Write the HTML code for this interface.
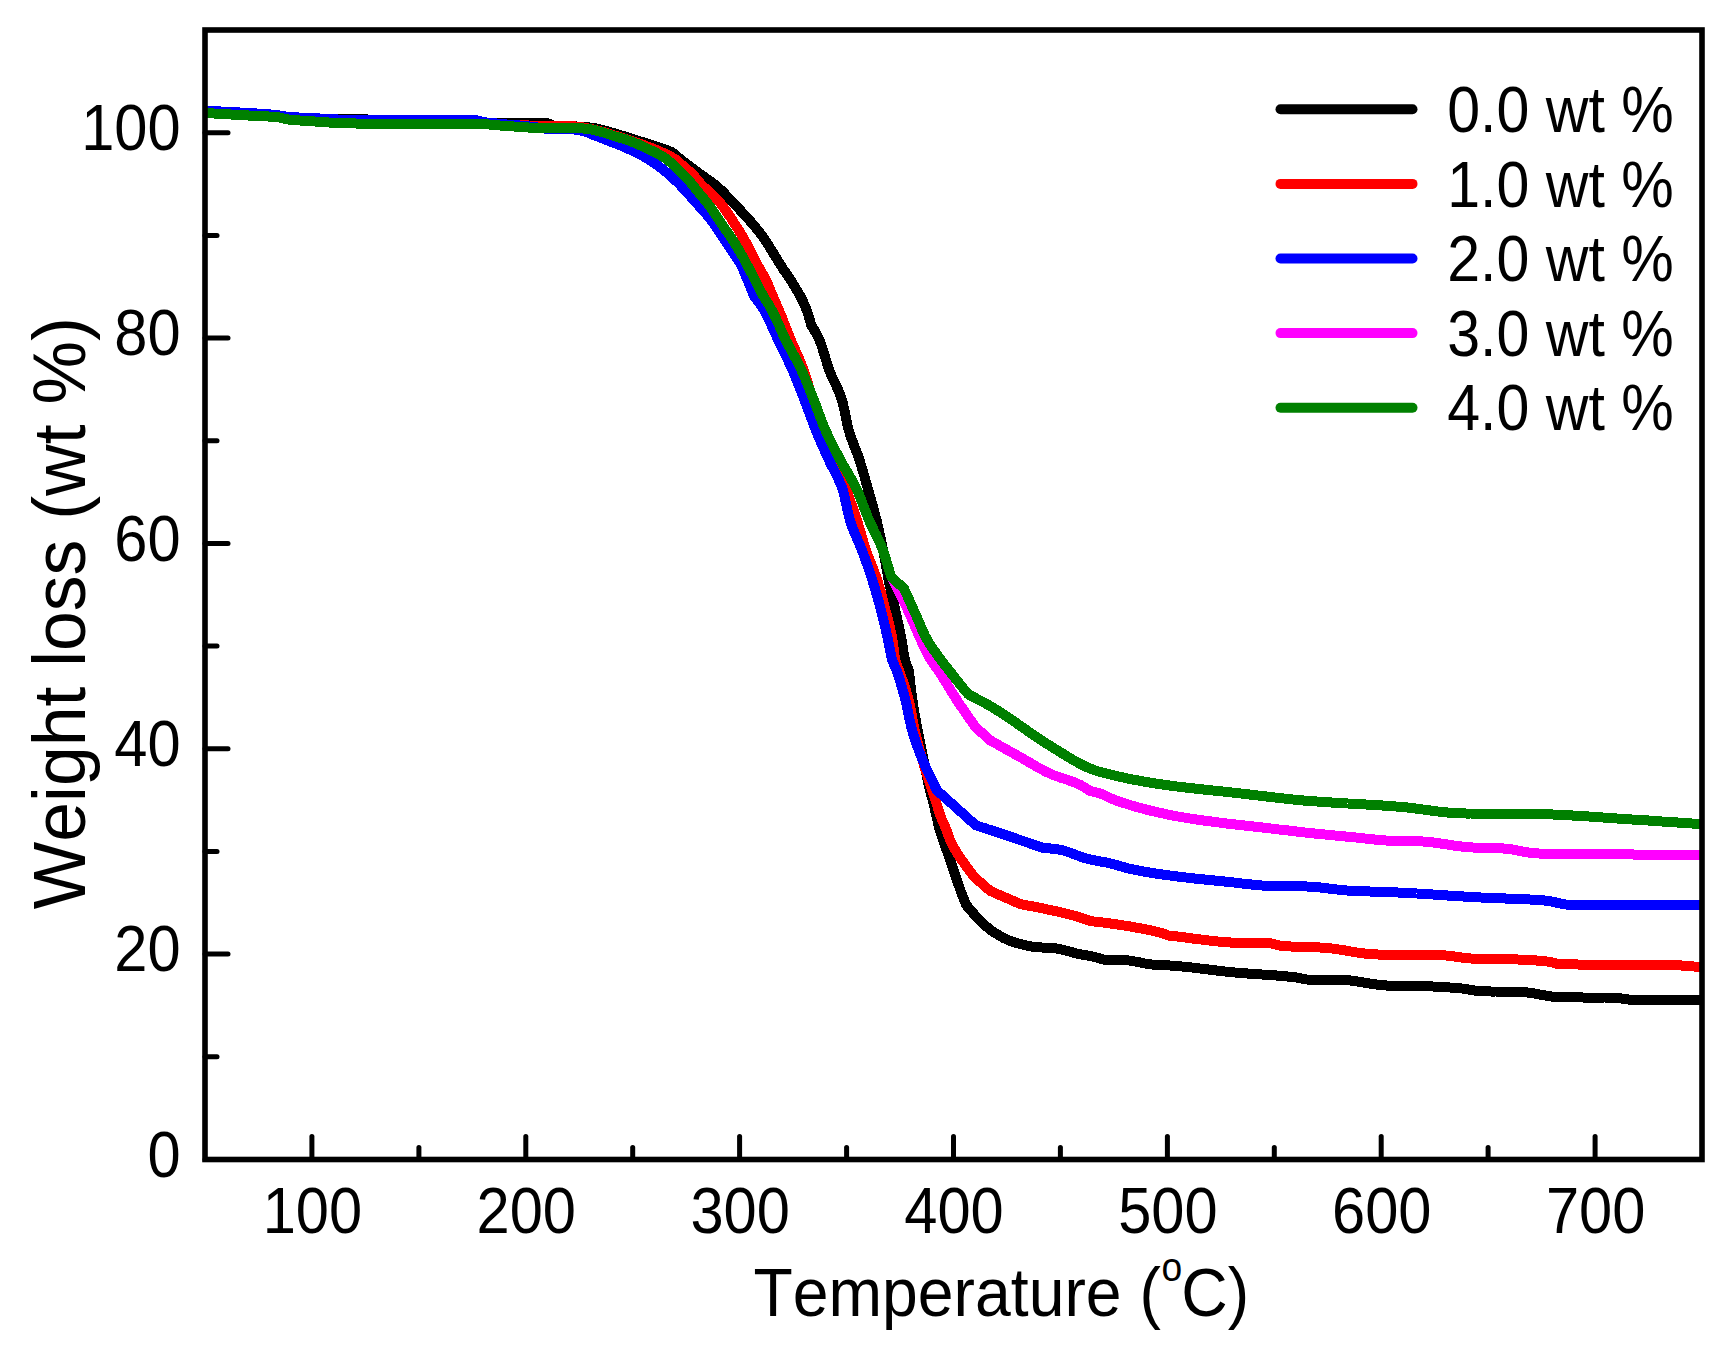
<!DOCTYPE html>
<html><head><meta charset="utf-8"><title>TGA weight loss</title>
<style>html,body{margin:0;padding:0;background:#fff}svg{display:block}text{font-family:"Liberation Sans",Arial,sans-serif;fill:#000;font-kerning:none}</style></head><body>
<svg width="1730" height="1354" viewBox="0 0 1730 1354">
<rect width="1730" height="1354" fill="#fff"/>
<defs><clipPath id="plot"><rect x="205.0" y="30.0" width="1497.0" height="1129.5"/></clipPath></defs>
<g clip-path="url(#plot)" fill="none" stroke-width="10" stroke-linejoin="round" stroke-linecap="butt" shape-rendering="crispEdges">
<polyline stroke="#000000" points="205.0,111.3 209.3,111.5 213.7,111.7 218.0,111.9 222.3,112.1 226.7,112.3 231.0,112.5 235.3,112.7 239.7,113.0 244.0,113.2 248.3,113.5 252.6,113.7 256.9,114.0 261.2,114.3 265.6,114.6 269.9,115.0 274.2,115.3 278.5,115.8 286.0,117.0 290.1,117.3 294.3,117.6 298.4,117.9 302.6,118.1 306.7,118.2 310.9,118.4 315.0,118.5 320.0,118.6 325.0,118.7 330.0,118.8 335.0,118.8 340.0,118.9 344.0,119.0 348.0,119.1 352.0,119.1 356.0,119.2 360.0,119.3 364.0,119.4 368.0,119.5 372.0,119.5 376.0,119.6 380.0,119.7 384.0,119.8 388.0,119.9 392.0,119.9 396.0,120.0 400.0,120.0 404.1,120.0 408.2,120.0 412.4,120.1 416.5,120.1 420.6,120.1 424.7,120.1 428.8,120.1 432.9,120.1 437.1,120.1 441.2,120.1 445.3,120.2 449.4,120.2 453.5,120.2 457.6,120.2 461.8,120.2 465.9,120.3 470.0,120.3 474.0,120.6 478.0,121.3 482.0,122.2 486.0,122.9 490.0,123.2 494.9,123.3 499.8,123.3 504.7,123.3 509.0,123.3 513.2,123.3 517.5,123.3 521.8,123.3 526.0,123.3 530.3,123.3 534.6,123.3 538.9,123.3 543.1,123.3 547.4,123.3 554.7,125.9 559.7,126.0 564.6,126.1 569.5,126.2 574.5,126.4 578.6,126.6 582.8,126.9 587.0,127.2 591.1,127.6 596.1,128.4 601.1,129.6 606.1,130.9 611.1,132.3 616.1,133.8 621.1,135.4 626.1,136.9 631.0,138.4 636.0,140.0 641.0,141.6 646.1,143.2 651.1,144.9 655.9,146.5 660.7,148.1 665.5,149.7 672.0,152.1 675.6,155.2 679.2,158.2 682.9,161.2 686.7,164.1 690.4,166.9 694.0,169.5 697.5,172.1 701.1,174.7 704.5,177.2 707.9,179.6 711.4,182.0 714.8,184.6 718.2,187.4 721.1,190.1 724.1,193.1 727.0,196.2 730.0,199.4 732.9,202.5 735.7,205.4 738.4,208.3 741.2,211.2 743.9,214.2 746.7,217.2 749.7,220.6 752.8,224.1 755.8,227.7 758.7,231.3 761.5,235.0 764.4,239.0 766.6,242.4 768.9,246.0 771.1,249.6 773.4,253.3 775.9,257.3 778.4,261.4 780.9,265.5 783.4,269.4 785.8,272.9 788.2,276.3 790.6,280.0 792.6,283.2 794.6,286.5 796.6,289.8 798.7,293.2 800.7,296.9 802.7,300.9 804.7,305.3 806.7,310.1 808.2,314.6 809.7,319.8 811.2,325.1 813.9,329.5 816.5,334.1 819.5,340.1 820.9,343.7 822.3,347.9 823.7,352.4 825.1,357.1 826.5,361.7 827.9,366.2 829.3,370.2 830.9,374.2 832.5,377.8 834.1,381.1 835.6,384.4 837.2,387.8 838.8,391.4 840.4,395.5 842.0,400.2 843.0,403.7 843.9,407.9 844.9,412.6 845.9,417.4 846.9,422.2 847.8,426.5 848.8,430.3 850.3,435.3 851.9,439.7 853.4,443.7 854.9,447.6 856.4,451.5 858.0,455.5 859.5,460.0 860.7,463.9 862.0,468.1 863.2,472.3 864.5,476.7 865.7,481.1 867.0,485.6 868.2,490.0 869.4,494.2 870.6,498.3 871.8,502.4 872.9,506.6 874.1,510.9 875.3,515.4 876.5,520.1 877.4,523.7 878.2,527.4 879.1,531.3 880.0,535.2 880.8,539.3 881.7,543.4 882.5,547.7 883.4,552.0 884.3,556.3 885.1,560.7 886.0,565.2 886.9,570.2 887.8,575.3 888.7,580.2 889.6,584.9 890.6,589.3 891.5,593.5 892.5,597.7 893.4,601.8 894.4,606.0 895.3,610.3 896.2,614.4 897.1,618.5 898.0,622.6 898.9,626.7 899.8,631.0 900.7,635.4 901.6,640.0 902.3,644.0 903.0,648.4 903.6,652.9 904.3,656.9 905.0,660.0 906.9,665.5 908.7,670.0 909.2,674.4 909.8,678.9 910.3,683.4 910.8,687.9 911.3,692.2 911.9,696.3 912.4,700.1 913.2,705.0 913.9,709.6 914.7,714.0 915.4,718.2 916.2,722.2 916.9,726.2 917.7,730.2 918.6,734.7 919.4,739.1 920.3,743.4 921.1,747.6 922.0,751.8 922.8,756.0 923.7,760.2 924.6,764.6 925.5,769.2 926.4,773.7 927.2,778.1 928.1,782.5 929.0,786.5 929.9,790.3 931.2,795.2 932.6,800.0 933.6,803.8 934.5,807.9 935.5,812.1 936.4,816.2 937.4,820.3 938.6,825.3 939.8,830.0 941.3,835.0 942.8,839.5 944.3,843.7 945.8,847.8 947.3,851.8 948.8,855.9 950.3,860.1 951.7,864.4 953.2,868.8 954.6,873.2 956.1,877.6 957.5,881.9 959.0,886.1 960.4,890.2 962.3,895.2 964.2,900.0 966.1,904.8 969.1,908.4 972.1,911.9 975.1,915.3 978.5,918.9 981.8,922.4 985.2,925.5 989.5,929.1 993.9,932.2 998.2,934.9 1002.4,937.4 1006.7,939.5 1012.0,941.5 1017.2,943.1 1021.7,944.3 1026.2,945.4 1030.8,946.4 1035.3,947.0 1040.2,947.4 1045.0,947.7 1049.9,947.9 1054.8,948.3 1059.0,948.9 1063.3,949.9 1067.5,951.0 1071.8,952.2 1076.0,953.3 1080.3,954.3 1085.2,955.1 1090.0,956.0 1094.1,956.9 1098.2,958.0 1102.4,959.2 1106.5,960.3 1110.7,960.2 1114.8,960.2 1118.9,960.1 1123.1,960.1 1127.2,960.3 1131.4,960.8 1135.5,961.6 1139.6,962.4 1143.7,963.3 1147.9,964.0 1152.0,964.5 1156.1,964.8 1160.3,965.0 1164.4,965.2 1168.6,965.4 1172.7,965.7 1176.8,966.0 1181.0,966.4 1185.1,966.8 1189.3,967.2 1193.4,967.7 1197.5,968.2 1201.7,968.7 1205.8,969.2 1210.0,969.7 1214.1,970.2 1218.2,970.7 1222.4,971.2 1226.5,971.7 1230.7,972.1 1234.8,972.5 1238.9,972.9 1243.1,973.2 1247.2,973.5 1251.4,973.8 1255.5,974.1 1259.6,974.4 1263.8,974.6 1267.9,974.9 1272.1,975.2 1276.2,975.5 1280.3,975.8 1284.5,976.2 1288.6,976.6 1292.8,977.0 1296.9,977.5 1301.0,978.3 1305.2,979.3 1309.3,979.8 1313.4,979.8 1317.6,979.9 1321.7,979.9 1325.8,979.9 1330.0,979.9 1334.1,979.9 1338.3,980.0 1342.4,980.0 1346.5,980.2 1350.7,980.5 1354.8,981.0 1358.9,981.7 1363.1,982.4 1367.2,983.1 1371.3,983.8 1375.4,984.4 1379.6,984.9 1383.7,985.3 1387.8,985.6 1391.8,985.8 1395.9,986.0 1400.0,986.1 1404.1,986.1 1408.3,986.2 1412.4,986.2 1416.5,986.2 1420.7,986.3 1424.8,986.3 1429.0,986.4 1433.1,986.5 1437.2,986.7 1441.4,986.9 1445.5,987.2 1449.7,987.5 1453.8,987.8 1458.0,988.1 1462.1,988.5 1466.2,989.2 1470.3,989.8 1474.5,990.5 1478.6,991.0 1482.7,991.3 1486.8,991.4 1491.0,991.5 1495.1,991.5 1499.3,991.6 1503.4,991.6 1507.6,991.7 1511.7,991.7 1515.9,991.8 1520.0,991.9 1524.1,992.1 1528.3,992.6 1532.4,993.2 1536.6,993.9 1540.7,994.7 1544.8,995.4 1549.0,996.1 1553.1,996.7 1557.3,997.1 1561.4,997.3 1565.7,997.4 1570.0,997.4 1574.3,997.4 1578.6,997.4 1582.9,997.5 1587.2,997.5 1591.4,997.5 1595.7,997.5 1600.0,997.5 1604.3,997.5 1608.6,997.6 1612.9,997.6 1617.2,997.7 1621.3,998.4 1625.5,999.3 1630.0,999.6 1634.6,999.9 1639.1,1000.0 1643.7,1000.2 1648.2,1000.2 1652.3,1000.2 1656.5,1000.2 1660.6,1000.2 1664.8,1000.2 1668.9,1000.2 1673.0,1000.2 1677.2,1000.2 1681.3,1000.2 1685.4,1000.2 1689.6,1000.2 1693.7,1000.2 1697.9,1000.2 1702.0,1000.2"/>
<polyline stroke="#ff0000" points="205.0,111.5 209.3,111.7 213.7,111.9 218.0,112.1 222.3,112.3 226.7,112.5 231.0,112.7 235.3,112.9 239.7,113.2 244.0,113.4 248.3,113.7 252.6,113.9 256.9,114.2 261.2,114.5 265.6,114.8 269.9,115.2 274.2,115.5 278.5,116.0 286.0,117.2 290.1,117.6 294.3,117.9 298.4,118.1 302.6,118.3 306.7,118.5 310.9,118.7 315.0,118.9 319.2,119.1 323.3,119.3 327.5,119.5 331.7,119.6 335.8,119.8 340.0,120.0 344.0,120.2 348.0,120.4 352.0,120.5 356.0,120.6 360.0,120.6 364.0,120.7 368.0,120.7 372.0,120.8 376.0,120.8 380.0,120.9 384.0,120.9 388.0,120.9 392.0,120.9 396.0,121.0 400.0,121.0 404.1,121.0 408.2,121.0 412.4,121.1 416.5,121.1 420.6,121.1 424.7,121.1 428.8,121.1 432.9,121.1 437.1,121.1 441.2,121.1 445.3,121.1 449.4,121.2 453.5,121.2 457.6,121.2 461.8,121.2 465.9,121.3 470.0,121.3 474.0,121.5 478.0,122.0 482.0,122.6 486.0,123.3 490.0,123.7 495.0,124.1 500.0,124.4 505.0,124.6 510.0,124.8 515.0,124.9 520.0,125.1 524.2,125.3 528.4,125.5 532.6,125.7 536.8,125.9 541.0,126.1 545.2,126.3 549.4,126.4 553.6,126.4 557.8,126.4 562.0,126.4 566.1,126.4 570.3,126.4 574.5,126.4 578.6,126.7 582.8,127.4 586.8,128.1 590.7,128.9 594.6,129.7 598.6,130.7 603.6,132.1 608.6,133.6 613.6,135.2 618.6,136.7 623.5,138.2 628.5,139.8 633.4,141.5 638.4,143.2 643.3,145.0 647.0,146.4 650.8,147.8 654.5,149.3 658.3,150.8 662.2,152.4 666.0,154.0 669.9,155.9 676.3,160.0 679.7,162.9 683.1,166.0 687.5,169.7 691.8,173.6 694.9,176.9 697.9,180.6 701.0,184.1 704.0,187.1 706.9,189.8 709.9,192.5 712.9,195.2 715.8,198.1 718.8,201.3 721.2,204.3 723.7,207.5 726.1,210.9 728.5,214.5 731.0,218.2 733.4,221.9 735.5,225.1 737.6,228.4 739.7,231.8 741.8,235.3 743.9,238.8 746.0,242.5 748.0,246.2 750.0,250.0 752.0,254.0 754.0,258.0 756.0,261.9 758.0,265.7 760.0,269.3 762.0,272.7 764.0,276.2 766.0,280.0 767.6,283.6 769.2,287.5 770.9,291.5 772.5,295.4 774.1,299.1 775.7,302.7 777.3,306.4 778.9,310.1 780.4,313.7 781.9,317.4 783.4,321.2 784.9,325.0 786.4,328.9 787.9,332.7 789.4,336.4 790.9,340.1 792.5,343.9 794.1,347.5 795.7,351.1 797.3,354.6 798.9,358.3 800.5,362.0 802.1,366.0 803.7,370.2 805.0,374.1 806.4,378.3 807.7,382.7 809.0,387.2 810.3,391.7 811.7,396.1 813.0,400.2 814.4,404.2 815.8,408.1 817.1,411.9 818.5,415.7 819.9,419.4 821.2,423.0 822.6,426.7 824.0,430.3 825.5,434.1 826.9,437.9 828.4,441.6 829.9,445.3 831.3,449.0 832.8,452.7 834.2,456.4 835.7,460.3 837.2,464.4 838.8,468.6 840.3,472.8 841.8,477.1 843.3,481.4 844.9,485.7 846.4,490.0 847.9,494.2 849.4,498.4 850.9,502.6 852.4,506.8 853.9,511.2 855.4,515.6 856.9,520.1 858.2,524.2 859.5,528.6 860.8,533.0 862.1,537.5 863.4,541.9 864.7,546.2 866.0,550.2 867.4,554.2 868.8,557.9 870.2,561.5 871.6,565.0 873.0,568.5 874.4,572.2 875.8,576.0 877.2,580.2 878.4,584.0 879.6,588.0 880.8,592.2 881.9,596.6 883.1,601.1 884.3,605.7 885.5,610.3 886.5,614.1 887.5,617.9 888.5,621.8 889.5,625.8 890.5,630.1 891.5,634.8 892.5,640.0 893.1,643.7 893.6,648.2 894.2,652.8 894.7,657.0 895.3,660.0 897.1,665.5 898.9,670.0 900.3,674.0 901.7,677.9 903.1,681.8 904.5,685.9 905.9,690.2 907.3,694.9 908.7,700.1 909.6,703.8 910.4,707.9 911.3,712.4 912.1,717.1 913.0,721.8 913.8,726.2 914.7,730.2 915.9,735.1 917.0,739.8 918.2,744.4 919.3,748.7 920.5,752.9 921.6,757.0 922.9,761.3 924.1,765.5 925.4,769.5 926.6,773.5 927.9,777.4 929.1,781.2 930.4,785.0 931.6,788.7 932.9,792.4 934.1,796.2 935.4,800.0 936.8,804.2 938.1,808.5 939.5,812.7 940.8,816.7 942.2,820.3 944.4,825.1 946.6,830.0 948.3,835.1 950.0,840.0 952.4,845.0 954.8,849.2 957.1,853.0 959.5,856.6 961.9,860.1 964.3,863.6 966.7,866.9 969.1,870.2 971.5,873.4 973.9,876.6 990.2,890.9 1020.2,904.0 1024.5,904.8 1028.8,905.7 1033.1,906.5 1037.4,907.3 1041.7,908.2 1046.0,909.1 1050.3,910.0 1054.6,911.0 1058.9,911.9 1063.2,912.9 1067.4,914.0 1071.7,915.1 1076.0,916.2 1080.3,917.5 1085.2,919.2 1090.0,921.0 1094.1,921.5 1098.2,922.0 1102.2,922.4 1106.3,922.9 1110.4,923.5 1114.5,924.1 1118.7,924.7 1122.8,925.3 1126.9,926.0 1131.1,926.6 1135.2,927.4 1139.3,928.1 1143.5,928.9 1147.6,929.7 1151.7,930.6 1155.9,931.6 1160.0,932.6 1164.3,934.0 1168.6,935.5 1172.6,935.9 1176.6,936.4 1180.7,936.9 1184.7,937.4 1188.7,937.9 1192.7,938.5 1196.8,939.0 1200.8,939.5 1204.8,940.0 1208.8,940.5 1212.8,941.0 1216.9,941.4 1220.9,941.8 1224.9,942.1 1228.9,942.4 1233.0,942.7 1237.0,942.8 1241.0,942.9 1245.1,942.9 1249.3,943.0 1253.4,943.0 1257.6,943.0 1261.7,943.1 1265.9,943.1 1270.0,943.1 1274.1,944.2 1278.3,945.3 1282.4,946.0 1286.5,946.3 1290.7,946.5 1294.8,946.7 1299.0,946.8 1303.1,946.9 1307.2,947.1 1311.4,947.2 1315.5,947.3 1319.7,947.5 1323.8,947.7 1327.9,948.0 1332.1,948.5 1336.2,949.1 1340.3,949.7 1344.5,950.4 1348.6,951.1 1352.7,951.8 1356.9,952.5 1361.0,953.1 1365.1,953.6 1369.3,954.0 1373.4,954.3 1377.8,954.5 1382.3,954.7 1386.7,954.8 1391.1,954.9 1395.6,955.0 1400.0,955.1 1404.1,955.1 1408.3,955.2 1412.4,955.2 1416.6,955.2 1420.7,955.2 1424.8,955.2 1429.0,955.2 1433.1,955.2 1437.3,955.3 1441.4,955.3 1445.8,955.5 1450.3,955.9 1454.7,956.5 1459.1,957.2 1463.5,957.8 1468.0,958.3 1472.4,958.6 1476.8,958.7 1481.2,958.8 1485.6,958.9 1490.0,958.9 1494.4,959.0 1498.8,959.0 1503.2,959.1 1507.6,959.2 1511.7,959.3 1515.9,959.4 1520.0,959.6 1524.2,959.8 1528.3,960.0 1532.4,960.2 1536.6,960.5 1540.7,960.9 1544.9,961.3 1549.0,961.7 1553.1,962.6 1557.2,963.8 1561.3,963.9 1565.5,964.1 1569.6,964.3 1573.7,964.4 1577.9,964.5 1582.0,964.6 1586.1,964.6 1590.3,964.7 1594.4,964.7 1598.6,964.7 1602.7,964.7 1606.9,964.7 1611.0,964.8 1615.1,964.8 1619.3,964.8 1623.4,964.8 1627.6,964.8 1631.7,964.8 1635.9,964.8 1640.0,964.8 1644.1,964.8 1648.3,964.9 1652.4,964.9 1656.6,964.9 1660.7,964.9 1664.9,965.0 1669.0,965.0 1673.1,965.1 1677.2,965.3 1681.4,965.5 1685.5,965.8 1689.6,966.2 1693.8,966.5 1697.9,966.8 1702.0,967.1"/>
<polyline stroke="#0000ff" points="205.0,110.8 209.3,111.0 213.7,111.2 218.0,111.4 222.3,111.6 226.7,111.8 231.0,112.0 235.3,112.2 239.7,112.5 244.0,112.7 248.3,113.0 252.6,113.2 256.9,113.5 261.2,113.8 265.6,114.1 269.9,114.4 274.2,114.8 278.5,115.3 286.0,116.6 290.1,117.0 294.3,117.3 298.4,117.5 302.6,117.7 306.7,117.9 310.9,118.1 315.0,118.3 319.6,118.5 324.1,118.8 328.7,119.0 333.3,119.3 337.8,119.5 342.4,119.6 346.8,119.7 351.2,119.8 355.6,119.9 360.0,119.9 364.0,119.9 368.0,119.9 372.0,119.9 376.0,119.9 380.0,119.9 384.0,119.9 388.0,119.9 392.0,119.9 396.0,119.9 400.0,119.9 404.0,119.9 408.0,119.9 412.0,119.9 416.0,119.9 420.0,119.9 424.0,119.9 428.0,119.9 432.0,119.9 436.0,119.9 440.0,119.9 444.1,119.9 448.1,119.9 452.2,119.9 456.2,119.9 460.3,119.9 464.4,119.9 468.4,119.9 472.5,119.9 477.0,120.4 481.5,121.6 486.0,122.5 491.2,123.1 496.4,123.5 501.6,124.0 505.8,124.4 509.9,124.7 514.1,125.1 518.2,125.4 522.4,125.8 526.9,126.2 531.5,126.7 536.0,127.2 540.7,127.9 545.3,128.6 550.0,129.0 554.1,129.1 558.2,129.2 562.2,129.2 566.3,129.3 570.4,129.4 574.5,129.5 578.6,130.0 582.8,131.0 586.7,132.2 590.5,133.7 594.4,135.3 598.1,136.7 601.9,138.2 605.6,139.6 609.4,141.1 613.2,142.6 617.0,144.1 620.8,145.6 624.6,147.2 628.4,148.9 632.2,150.6 636.1,152.4 639.9,154.3 643.9,156.5 647.8,158.9 651.8,161.5 655.7,164.2 659.5,166.9 663.3,169.8 667.1,172.9 671.0,176.3 675.0,180.0 678.8,183.6 682.5,187.5 685.5,190.8 688.5,194.1 691.5,197.6 694.5,201.0 697.3,204.1 700.1,207.2 702.9,210.2 705.6,213.3 708.4,216.6 711.2,220.1 714.0,223.9 716.8,228.0 719.6,232.3 722.4,236.5 724.8,240.1 727.2,243.8 729.7,247.5 732.1,251.2 734.4,254.6 736.7,257.8 738.9,261.3 741.2,265.3 743.3,269.7 745.4,274.8 747.5,280.0 749.0,283.8 750.6,287.6 752.2,291.5 753.7,295.4 756.3,299.0 758.9,302.4 761.4,306.1 764.0,310.1 765.8,313.3 767.6,316.8 769.4,320.5 771.1,324.3 772.9,328.3 774.7,332.3 776.5,336.3 778.3,340.1 780.1,343.8 781.9,347.5 783.7,351.1 785.5,354.8 787.2,358.5 789.0,362.3 790.8,366.2 792.6,370.2 794.1,373.7 795.6,377.3 797.1,381.0 798.6,384.8 800.1,388.6 801.6,392.4 803.1,396.3 804.6,400.2 806.0,403.9 807.4,407.7 808.8,411.5 810.2,415.4 811.7,419.3 813.1,423.0 814.5,426.7 815.9,430.3 817.5,434.3 819.2,438.2 820.8,442.0 822.5,445.7 824.1,449.4 825.7,453.0 827.4,456.7 829.0,460.3 830.7,463.9 832.5,467.3 834.2,470.6 835.9,473.9 837.6,477.3 839.3,481.1 841.1,485.2 842.8,490.0 843.8,493.5 844.8,497.7 845.8,502.4 846.9,507.3 847.9,512.0 848.9,516.4 849.9,520.1 851.4,524.7 852.9,528.7 854.4,532.5 855.9,536.0 857.4,539.4 858.9,542.8 860.4,546.4 861.9,550.2 863.4,554.2 864.9,558.3 866.4,562.5 867.9,566.7 869.4,571.1 870.9,575.6 872.4,580.2 873.6,584.1 874.9,588.2 876.1,592.4 877.3,596.7 878.5,601.1 879.8,605.6 881.0,610.3 882.0,614.2 883.0,618.2 884.0,622.4 885.0,626.6 886.0,631.0 887.0,635.4 888.0,640.0 888.8,643.8 889.6,647.8 890.4,651.9 891.2,656.0 892.0,660.0 894.2,664.8 896.4,670.0 897.7,673.6 899.0,677.4 900.3,681.5 901.5,685.9 902.8,690.5 904.1,695.2 905.4,700.1 906.4,704.1 907.3,708.5 908.3,713.1 909.2,717.8 910.2,722.3 911.1,726.5 912.1,730.2 913.6,735.3 915.1,740.1 916.6,744.5 918.2,748.7 919.7,752.7 921.2,756.5 922.7,760.2 924.5,764.4 926.2,768.4 928.0,772.2 929.8,775.8 931.6,779.4 933.4,783.0 935.1,786.6 936.9,790.3 975.8,825.3 980.0,826.7 984.2,828.0 988.4,829.4 992.6,830.8 996.8,832.1 1001.0,833.5 1005.2,834.9 1009.4,836.3 1013.6,837.7 1017.7,839.2 1021.9,840.6 1026.1,842.0 1030.3,843.5 1034.4,844.9 1038.6,846.4 1042.8,847.8 1047.8,848.3 1052.8,848.7 1057.8,849.3 1062.1,850.2 1066.4,851.4 1070.7,852.9 1075.0,854.6 1079.3,856.2 1083.6,857.7 1087.9,858.9 1092.4,859.9 1096.9,860.8 1101.4,861.6 1105.9,862.4 1110.4,863.4 1114.6,864.5 1118.8,865.7 1123.0,866.9 1127.2,868.1 1131.4,869.1 1135.5,869.9 1139.7,870.7 1143.8,871.5 1147.9,872.2 1152.1,872.9 1156.2,873.6 1160.3,874.2 1164.4,874.8 1168.6,875.3 1172.7,875.9 1176.7,876.4 1180.7,876.9 1184.7,877.4 1188.6,877.8 1192.6,878.3 1196.6,878.7 1200.6,879.1 1204.6,879.5 1208.6,879.9 1212.5,880.3 1216.5,880.7 1220.5,881.1 1224.5,881.5 1228.8,882.0 1233.1,882.4 1237.5,883.0 1241.8,883.5 1246.1,884.0 1250.4,884.4 1254.7,884.9 1259.0,885.3 1263.4,885.6 1267.7,885.8 1272.0,886.0 1276.4,886.1 1280.8,886.2 1285.2,886.2 1289.6,886.2 1294.0,886.3 1298.4,886.3 1302.8,886.4 1307.2,886.5 1311.3,886.7 1315.5,887.0 1319.6,887.4 1323.8,887.9 1327.9,888.4 1332.0,888.9 1336.2,889.4 1340.3,889.9 1344.5,890.3 1348.6,890.6 1352.9,890.8 1357.2,891.0 1361.4,891.2 1365.7,891.4 1370.0,891.5 1374.3,891.7 1378.6,891.8 1382.9,891.9 1387.2,892.1 1391.4,892.2 1395.7,892.4 1400.0,892.6 1404.1,892.8 1408.3,893.0 1412.4,893.2 1416.5,893.5 1420.7,893.7 1424.8,894.0 1429.0,894.3 1433.1,894.5 1437.2,894.8 1441.4,895.1 1445.5,895.4 1449.6,895.6 1453.8,895.9 1457.9,896.2 1462.1,896.4 1466.2,896.7 1470.3,896.9 1474.5,897.2 1478.6,897.4 1482.7,897.6 1486.9,897.8 1491.0,898.0 1495.1,898.1 1499.3,898.3 1503.4,898.4 1507.6,898.6 1511.7,898.7 1515.8,898.9 1520.0,899.1 1524.1,899.2 1528.2,899.4 1532.4,899.7 1536.5,899.9 1540.7,900.2 1544.8,900.5 1549.3,901.1 1553.8,902.0 1558.2,903.0 1562.7,904.0 1567.2,904.7 1571.7,905.0 1575.8,905.0 1579.8,905.0 1583.9,905.0 1588.0,905.0 1592.1,905.0 1596.1,905.0 1600.2,905.0 1604.3,905.0 1608.3,905.0 1612.4,905.0 1616.5,905.0 1620.6,905.0 1624.6,904.9 1628.7,904.9 1632.8,904.9 1636.8,904.9 1640.9,904.9 1645.0,904.9 1649.1,904.9 1653.1,904.9 1657.2,904.9 1661.3,904.9 1665.4,904.9 1669.4,904.9 1673.5,904.9 1677.6,904.8 1681.6,904.8 1685.7,904.8 1689.8,904.8 1693.9,904.8 1697.9,904.8 1702.0,904.8"/>
<polyline stroke="#ff00ff" points="205.0,113.0 209.3,113.3 213.7,113.5 218.0,113.8 222.3,114.0 226.7,114.3 231.0,114.5 235.3,114.8 239.7,115.0 244.0,115.3 248.3,115.5 252.6,115.7 256.9,115.9 261.2,116.1 265.6,116.3 269.9,116.6 274.2,116.9 278.5,117.3 286.0,119.2 290.1,119.7 294.3,120.1 298.4,120.4 302.6,120.7 306.7,121.0 310.9,121.2 315.0,121.5 319.6,121.8 324.1,122.2 328.7,122.5 333.3,122.8 337.8,123.0 342.4,123.2 346.8,123.3 351.2,123.4 355.6,123.5 360.0,123.5 364.0,123.5 368.0,123.5 372.0,123.5 376.0,123.5 380.0,123.5 384.0,123.5 388.0,123.5 392.0,123.5 396.0,123.5 400.0,123.5 404.0,123.5 408.0,123.5 412.0,123.5 416.0,123.5 420.0,123.5 424.0,123.5 428.0,123.5 432.0,123.5 436.0,123.5 440.0,123.5 444.1,123.5 448.1,123.5 452.2,123.5 456.2,123.5 460.3,123.5 464.4,123.5 468.4,123.5 472.5,123.5 476.7,123.6 480.8,123.8 485.0,124.1 489.1,124.5 493.3,124.9 497.4,125.3 501.6,125.6 506.1,125.9 510.5,126.2 515.0,126.6 519.4,126.9 523.9,127.2 528.3,127.5 532.8,127.7 537.3,127.9 541.9,128.1 546.4,128.2 550.4,128.2 554.4,128.2 558.4,128.2 562.5,128.2 566.5,128.2 570.5,128.2 574.5,128.2 579.8,128.3 585.0,128.6 590.0,129.2 595.1,130.3 600.1,131.6 605.1,133.0 610.1,134.7 615.1,136.3 620.1,137.8 625.1,139.3 630.1,141.0 633.9,142.5 637.6,144.1 641.4,145.8 645.1,147.6 648.9,149.4 652.7,151.1 656.4,153.0 660.2,155.1 664.0,157.4 667.7,160.0 671.5,163.2 675.2,166.7 679.0,170.4 682.7,174.2 686.5,178.0 690.2,182.1 694.1,187.0 697.1,190.7 700.1,194.3 703.1,197.9 706.1,201.6 709.1,205.5 711.6,209.0 714.1,212.7 716.6,216.5 719.1,220.3 721.6,224.0 724.1,227.7 726.7,231.3 729.2,234.9 731.8,238.6 734.3,242.5 736.4,246.0 738.6,249.6 740.7,253.3 742.9,257.1 745.0,261.0 747.5,265.6 749.9,270.3 752.4,275.0 754.5,279.1 756.6,283.3 758.8,287.4 760.9,291.5 763.0,295.4 765.2,299.1 767.4,302.7 769.6,306.2 771.8,310.1 773.5,313.5 775.3,317.1 777.0,320.9 778.8,324.8 780.5,328.8 782.2,332.7 784.0,336.5 785.7,340.1 787.7,344.0 789.7,347.7 791.6,351.3 793.6,354.9 795.6,358.5 797.5,362.2 799.5,366.1 801.5,370.2 803.0,373.6 804.6,377.2 806.1,380.9 807.7,384.6 809.2,388.5 810.8,392.4 812.4,396.3 813.9,400.2 815.4,403.9 816.8,407.8 818.2,411.7 819.7,415.6 821.1,419.5 822.6,423.3 824.0,426.9 825.5,430.3 827.4,434.5 829.2,438.4 831.1,442.3 833.0,446.0 834.9,449.6 836.8,453.2 838.6,456.8 840.5,460.3 842.6,464.1 844.6,467.7 846.7,471.2 848.8,474.7 850.8,478.2 852.9,481.9 854.9,485.8 857.0,490.0 858.5,493.3 860.0,497.0 861.5,500.8 863.0,504.7 864.5,508.7 866.0,512.7 867.5,516.5 869.0,520.1 870.7,524.0 872.5,527.6 874.2,531.1 876.0,534.6 877.7,538.1 879.4,541.9 881.2,545.8 882.9,550.2 884.2,553.9 885.5,558.0 886.8,562.4 888.2,566.9 889.5,571.3 890.8,575.7 892.3,578.0 895.4,585.0 898.0,590.2 900.5,595.3 902.4,599.0 904.2,602.7 906.1,606.4 908.0,610.3 909.6,613.9 911.2,617.6 912.9,621.4 914.5,625.3 916.1,629.2 917.8,633.0 919.4,636.7 921.0,640.3 923.0,644.5 925.0,648.7 926.9,652.8 928.9,656.6 930.9,660.0 933.3,663.5 935.6,666.7 938.0,670.0 940.4,673.6 942.7,677.3 945.1,681.1 947.5,685.0 949.8,688.8 952.2,692.7 954.5,696.4 956.9,700.1 959.2,703.6 961.5,707.0 963.8,710.3 966.1,713.6 968.4,717.0 970.7,720.3 973.0,723.6 975.3,726.9 990.3,740.4 994.0,742.5 997.8,744.6 1001.5,746.7 1005.3,748.8 1009.0,750.9 1012.8,753.0 1016.5,755.1 1020.3,757.2 1024.1,759.3 1027.8,761.5 1031.6,763.7 1035.3,765.9 1039.1,768.1 1042.9,770.1 1046.6,772.0 1050.4,773.8 1054.2,775.4 1057.9,776.7 1061.7,778.0 1065.5,779.2 1069.2,780.5 1073.0,781.8 1076.7,783.3 1080.5,785.0 1085.2,787.8 1090.0,790.9 1095.0,792.1 1100.0,793.5 1103.7,794.9 1107.4,796.7 1111.1,798.5 1114.8,800.0 1118.9,801.4 1123.1,802.8 1127.2,804.1 1131.3,805.4 1135.5,806.6 1139.6,807.8 1143.8,808.9 1147.9,810.0 1152.0,811.0 1156.2,812.0 1160.3,812.9 1164.4,813.8 1168.6,814.7 1172.7,815.5 1176.8,816.3 1181.0,817.0 1185.1,817.7 1189.3,818.4 1193.4,819.0 1197.5,819.6 1201.7,820.2 1205.8,820.8 1210.0,821.3 1214.1,821.9 1218.1,822.4 1222.1,822.9 1226.0,823.4 1230.0,823.9 1234.0,824.3 1238.0,824.8 1241.9,825.2 1245.9,825.7 1249.9,826.1 1253.9,826.6 1257.8,827.0 1261.8,827.4 1265.8,827.9 1269.9,828.4 1274.1,828.9 1278.2,829.4 1282.4,829.9 1286.5,830.3 1290.6,830.8 1294.8,831.3 1298.9,831.8 1303.1,832.3 1307.2,832.7 1311.3,833.1 1315.5,833.6 1319.6,834.0 1323.8,834.4 1327.9,834.8 1332.0,835.2 1336.2,835.6 1340.3,836.0 1344.5,836.4 1348.6,836.8 1352.9,837.2 1357.2,837.6 1361.4,838.1 1365.7,838.6 1370.0,839.0 1374.3,839.5 1378.6,839.9 1382.9,840.3 1387.2,840.6 1391.4,840.8 1395.7,841.0 1400.0,841.1 1404.1,841.1 1408.2,841.1 1412.4,841.2 1416.5,841.2 1420.5,841.3 1424.5,841.6 1428.5,841.9 1432.5,842.4 1436.5,842.9 1440.5,843.5 1444.5,844.1 1448.4,844.7 1452.4,845.3 1456.4,845.9 1460.4,846.4 1464.4,846.9 1468.4,847.2 1472.4,847.5 1476.8,847.7 1481.3,847.8 1485.7,847.9 1490.1,848.0 1494.5,848.2 1499.0,848.3 1503.4,848.5 1507.8,848.9 1512.2,849.5 1516.6,850.3 1521.0,851.2 1525.4,852.0 1529.8,852.7 1534.2,853.3 1538.6,853.5 1542.6,853.6 1546.7,853.6 1550.7,853.6 1554.8,853.7 1558.8,853.7 1562.9,853.7 1566.9,853.7 1571.0,853.8 1575.0,853.8 1579.1,853.8 1583.1,853.8 1587.1,853.8 1591.2,853.8 1595.2,853.8 1599.3,853.8 1603.3,853.9 1607.4,853.9 1611.4,853.9 1615.5,854.0 1619.5,854.0 1623.6,854.0 1627.6,854.1 1631.7,854.3 1635.8,854.8 1639.9,855.2 1644.0,855.4 1648.1,855.4 1652.3,855.4 1656.4,855.4 1660.6,855.4 1664.7,855.4 1668.9,855.4 1673.0,855.4 1677.1,855.4 1681.3,855.4 1685.4,855.4 1689.6,855.4 1693.7,855.4 1697.9,855.4 1702.0,855.4"/>
<polyline stroke="#008000" points="205.0,113.0 209.3,113.3 213.7,113.5 218.0,113.8 222.3,114.0 226.7,114.3 231.0,114.5 235.3,114.8 239.7,115.0 244.0,115.3 248.3,115.5 252.6,115.7 256.9,115.9 261.2,116.1 265.6,116.3 269.9,116.6 274.2,116.9 278.5,117.3 286.0,119.2 290.1,119.7 294.3,120.1 298.4,120.4 302.6,120.7 306.7,121.0 310.9,121.2 315.0,121.5 319.6,121.8 324.1,122.2 328.7,122.5 333.3,122.8 337.8,123.0 342.4,123.2 346.8,123.3 351.2,123.4 355.6,123.5 360.0,123.5 364.0,123.5 368.0,123.5 372.0,123.5 376.0,123.5 380.0,123.5 384.0,123.5 388.0,123.5 392.0,123.5 396.0,123.5 400.0,123.5 404.0,123.5 408.0,123.5 412.0,123.5 416.0,123.5 420.0,123.5 424.0,123.5 428.0,123.5 432.0,123.5 436.0,123.5 440.0,123.5 444.1,123.5 448.1,123.5 452.2,123.5 456.2,123.5 460.3,123.5 464.4,123.5 468.4,123.5 472.5,123.5 476.7,123.6 480.8,123.8 485.0,124.1 489.1,124.5 493.3,124.9 497.4,125.3 501.6,125.6 506.1,125.9 510.5,126.2 515.0,126.6 519.4,126.9 523.9,127.2 528.3,127.5 532.8,127.7 537.3,127.9 541.9,128.1 546.4,128.2 550.4,128.2 554.4,128.2 558.4,128.2 562.5,128.2 566.5,128.2 570.5,128.2 574.5,128.2 579.8,128.3 585.0,128.6 590.0,129.2 595.1,130.3 600.1,131.6 605.1,133.0 610.1,134.7 615.1,136.3 620.1,137.8 625.1,139.3 630.1,141.0 633.9,142.5 637.6,144.1 641.4,145.8 645.1,147.6 648.9,149.4 652.7,151.1 656.4,153.0 660.2,155.1 664.0,157.4 667.7,160.0 671.5,163.2 675.2,166.7 679.0,170.4 682.7,174.2 686.5,178.0 690.2,182.1 694.1,187.0 697.1,190.7 700.1,194.3 703.1,197.9 706.1,201.6 709.1,205.5 711.6,209.0 714.1,212.7 716.6,216.5 719.1,220.3 721.6,224.0 724.1,227.7 726.7,231.3 729.2,234.9 731.8,238.6 734.3,242.5 736.4,246.0 738.6,249.6 740.7,253.3 742.9,257.1 745.0,261.0 747.5,265.6 749.9,270.3 752.4,275.0 754.5,279.1 756.6,283.3 758.8,287.4 760.9,291.5 763.0,295.4 765.2,299.1 767.4,302.7 769.6,306.2 771.8,310.1 773.5,313.5 775.3,317.1 777.0,320.9 778.8,324.8 780.5,328.8 782.2,332.7 784.0,336.5 785.7,340.1 787.7,344.0 789.7,347.7 791.6,351.3 793.6,354.9 795.6,358.5 797.5,362.2 799.5,366.1 801.5,370.2 803.0,373.6 804.6,377.2 806.1,380.9 807.7,384.6 809.2,388.5 810.8,392.4 812.4,396.3 813.9,400.2 815.4,403.9 816.8,407.8 818.2,411.7 819.7,415.6 821.1,419.5 822.6,423.3 824.0,426.9 825.5,430.3 827.4,434.5 829.2,438.4 831.1,442.3 833.0,446.0 834.9,449.6 836.8,453.2 838.6,456.8 840.5,460.3 842.6,464.1 844.6,467.7 846.7,471.2 848.8,474.7 850.8,478.2 852.9,481.9 854.9,485.8 857.0,490.0 858.5,493.3 860.0,497.0 861.5,500.8 863.0,504.7 864.5,508.7 866.0,512.7 867.5,516.5 869.0,520.1 870.7,524.0 872.5,527.6 874.2,531.1 876.0,534.6 877.7,538.1 879.4,541.9 881.2,545.8 882.9,550.2 884.2,553.9 885.5,558.0 886.8,562.4 888.2,566.9 889.5,571.3 890.8,575.7 892.3,578.0 904.0,588.5 906.0,592.9 907.9,597.2 909.9,601.6 911.8,606.0 913.8,610.3 915.5,614.1 917.2,618.0 918.9,622.0 920.5,625.9 922.2,629.8 923.9,633.4 925.6,636.9 927.3,640.0 929.6,643.8 931.9,647.4 934.2,650.7 936.5,653.8 938.8,656.9 941.1,660.0 943.8,663.6 946.5,667.1 949.2,670.6 951.9,674.0 954.5,677.4 957.2,680.7 959.9,684.0 962.6,687.4 965.3,690.7 968.0,694.1 971.7,696.1 975.4,698.0 979.1,700.0 982.9,701.9 986.6,704.0 990.3,706.1 993.6,708.1 997.0,710.2 1000.3,712.3 1003.7,714.5 1007.0,716.7 1010.3,718.9 1013.7,721.2 1017.0,723.5 1020.4,725.9 1023.7,728.2 1027.0,730.5 1030.4,732.8 1033.7,735.1 1037.0,737.4 1040.4,739.6 1043.7,741.8 1047.1,743.9 1050.4,746.0 1054.0,748.2 1057.6,750.5 1061.2,752.7 1064.8,754.9 1068.4,757.1 1072.0,759.3 1075.6,761.4 1079.2,763.3 1082.8,765.2 1086.4,766.9 1090.0,768.5 1094.2,770.1 1098.3,771.4 1102.3,772.5 1106.3,773.5 1110.3,774.5 1114.3,775.5 1118.3,776.4 1122.3,777.3 1126.3,778.2 1130.3,779.0 1134.4,779.8 1138.4,780.5 1142.4,781.3 1146.4,782.0 1150.4,782.6 1154.4,783.3 1158.4,783.9 1162.4,784.5 1166.4,785.1 1170.4,785.6 1174.5,786.2 1178.5,786.7 1182.5,787.2 1186.5,787.6 1190.6,788.1 1194.6,788.5 1198.6,789.0 1202.6,789.4 1206.6,789.8 1210.7,790.2 1214.7,790.7 1218.7,791.1 1222.7,791.5 1226.8,791.9 1230.8,792.4 1234.8,792.8 1238.8,793.3 1242.8,793.7 1246.9,794.2 1250.9,794.7 1254.9,795.2 1258.9,795.6 1263.0,796.1 1267.0,796.6 1271.0,797.1 1275.0,797.5 1279.0,798.0 1283.1,798.4 1287.1,798.9 1291.1,799.3 1295.1,799.7 1299.2,800.1 1303.2,800.5 1307.2,800.8 1311.2,801.1 1315.3,801.4 1319.3,801.7 1323.3,802.0 1327.4,802.3 1331.4,802.5 1335.4,802.8 1339.5,803.0 1343.5,803.2 1347.5,803.5 1351.6,803.7 1355.6,803.9 1359.7,804.1 1363.7,804.4 1367.7,804.6 1371.8,804.8 1375.8,805.1 1379.8,805.3 1383.9,805.6 1387.9,805.9 1391.9,806.2 1396.0,806.5 1400.0,806.8 1404.1,807.2 1408.3,807.6 1412.4,808.1 1416.5,808.6 1420.7,809.2 1424.8,809.7 1428.9,810.3 1433.1,810.9 1437.2,811.4 1441.3,811.9 1445.5,812.3 1449.6,812.7 1453.7,813.0 1457.9,813.3 1462.0,813.4 1466.1,813.5 1470.3,813.5 1474.4,813.6 1478.6,813.6 1482.7,813.7 1486.9,813.7 1491.0,813.8 1495.1,813.8 1499.3,813.8 1503.4,813.8 1507.6,813.9 1511.7,813.9 1515.8,813.9 1520.0,813.9 1524.1,814.0 1528.3,814.0 1532.4,814.1 1536.6,814.1 1540.7,814.2 1544.8,814.3 1549.0,814.4 1553.1,814.5 1557.3,814.7 1561.4,814.9 1565.5,815.1 1569.7,815.3 1573.8,815.6 1577.9,815.8 1582.1,816.1 1586.2,816.3 1590.4,816.6 1594.5,816.9 1598.6,817.2 1602.8,817.5 1606.9,817.8 1611.0,818.1 1615.2,818.4 1619.3,818.7 1623.5,818.9 1627.6,819.2 1631.7,819.5 1635.9,819.7 1640.0,820.0 1644.1,820.3 1648.3,820.5 1652.4,820.8 1656.5,821.1 1660.7,821.4 1664.8,821.7 1668.9,821.9 1673.1,822.2 1677.2,822.5 1681.3,822.8 1685.5,823.1 1689.6,823.4 1693.7,823.6 1697.9,823.9 1702.0,824.2"/>
</g>
<g stroke="#000" stroke-width="5" stroke-linecap="round">
<line x1="311.9" y1="1159.5" x2="311.9" y2="1136.5"/>
<line x1="525.8" y1="1159.5" x2="525.8" y2="1136.5"/>
<line x1="739.6" y1="1159.5" x2="739.6" y2="1136.5"/>
<line x1="953.5" y1="1159.5" x2="953.5" y2="1136.5"/>
<line x1="1167.4" y1="1159.5" x2="1167.4" y2="1136.5"/>
<line x1="1381.2" y1="1159.5" x2="1381.2" y2="1136.5"/>
<line x1="1595.1" y1="1159.5" x2="1595.1" y2="1136.5"/>
<line x1="418.9" y1="1159.5" x2="418.9" y2="1147.5"/>
<line x1="632.7" y1="1159.5" x2="632.7" y2="1147.5"/>
<line x1="846.6" y1="1159.5" x2="846.6" y2="1147.5"/>
<line x1="1060.4" y1="1159.5" x2="1060.4" y2="1147.5"/>
<line x1="1274.3" y1="1159.5" x2="1274.3" y2="1147.5"/>
<line x1="1488.1" y1="1159.5" x2="1488.1" y2="1147.5"/>
<line x1="205.0" y1="1159.5" x2="228.0" y2="1159.5"/>
<line x1="205.0" y1="954.1" x2="228.0" y2="954.1"/>
<line x1="205.0" y1="748.8" x2="228.0" y2="748.8"/>
<line x1="205.0" y1="543.4" x2="228.0" y2="543.4"/>
<line x1="205.0" y1="338.0" x2="228.0" y2="338.0"/>
<line x1="205.0" y1="132.7" x2="228.0" y2="132.7"/>
<line x1="205.0" y1="1056.8" x2="217.0" y2="1056.8"/>
<line x1="205.0" y1="851.5" x2="217.0" y2="851.5"/>
<line x1="205.0" y1="646.1" x2="217.0" y2="646.1"/>
<line x1="205.0" y1="440.7" x2="217.0" y2="440.7"/>
<line x1="205.0" y1="235.4" x2="217.0" y2="235.4"/>
</g>
<rect x="205.0" y="30.0" width="1497.0" height="1129.5" fill="none" stroke="#000" stroke-width="5.6"/>
<text transform="translate(312.4,1232.6) scale(0.924,1)" font-size="64.5" text-anchor="middle">100</text>
<text transform="translate(526.3,1232.6) scale(0.924,1)" font-size="64.5" text-anchor="middle">200</text>
<text transform="translate(740.1,1232.6) scale(0.924,1)" font-size="64.5" text-anchor="middle">300</text>
<text transform="translate(954.0,1232.6) scale(0.924,1)" font-size="64.5" text-anchor="middle">400</text>
<text transform="translate(1167.9,1232.6) scale(0.924,1)" font-size="64.5" text-anchor="middle">500</text>
<text transform="translate(1381.7,1232.6) scale(0.924,1)" font-size="64.5" text-anchor="middle">600</text>
<text transform="translate(1595.6,1232.6) scale(0.924,1)" font-size="64.5" text-anchor="middle">700</text>
<text transform="translate(180.6,1176.7) scale(0.924,1)" font-size="64.5" text-anchor="end">0</text>
<text transform="translate(180.6,971.3) scale(0.924,1)" font-size="64.5" text-anchor="end">20</text>
<text transform="translate(180.6,766.0) scale(0.924,1)" font-size="64.5" text-anchor="end">40</text>
<text transform="translate(180.6,560.6) scale(0.924,1)" font-size="64.5" text-anchor="end">60</text>
<text transform="translate(180.6,355.2) scale(0.924,1)" font-size="64.5" text-anchor="end">80</text>
<text transform="translate(180.6,149.9) scale(0.924,1)" font-size="64.5" text-anchor="end">100</text>
<text transform="translate(753.5,1315.8) scale(0.932,1)" font-size="69">Temperature <tspan x="414.2">(</tspan><tspan x="437.9" dy="-35.0" font-size="40">o</tspan><tspan x="459.0" dy="35.0">C)</tspan></text>
<text transform="translate(85.2,909.2) rotate(-90) scale(0.973,1)" font-size="73.5">Weight loss (wt %)</text>
<line x1="1280.5" y1="109.3" x2="1412.5" y2="109.3" stroke="#000000" stroke-width="10" stroke-linecap="round"/>
<text transform="translate(1447.2,132.0) scale(0.916,1)" font-size="64.5">0.0 wt %</text>
<line x1="1280.5" y1="183.9" x2="1412.5" y2="183.9" stroke="#ff0000" stroke-width="10" stroke-linecap="round"/>
<text transform="translate(1447.2,206.6) scale(0.916,1)" font-size="64.5">1.0 wt %</text>
<line x1="1280.5" y1="258.5" x2="1412.5" y2="258.5" stroke="#0000ff" stroke-width="10" stroke-linecap="round"/>
<text transform="translate(1447.2,281.2) scale(0.916,1)" font-size="64.5">2.0 wt %</text>
<line x1="1280.5" y1="333.1" x2="1412.5" y2="333.1" stroke="#ff00ff" stroke-width="10" stroke-linecap="round"/>
<text transform="translate(1447.2,355.8) scale(0.916,1)" font-size="64.5">3.0 wt %</text>
<line x1="1280.5" y1="407.7" x2="1412.5" y2="407.7" stroke="#008000" stroke-width="10" stroke-linecap="round"/>
<text transform="translate(1447.2,430.4) scale(0.916,1)" font-size="64.5">4.0 wt %</text>
</svg></body></html>
